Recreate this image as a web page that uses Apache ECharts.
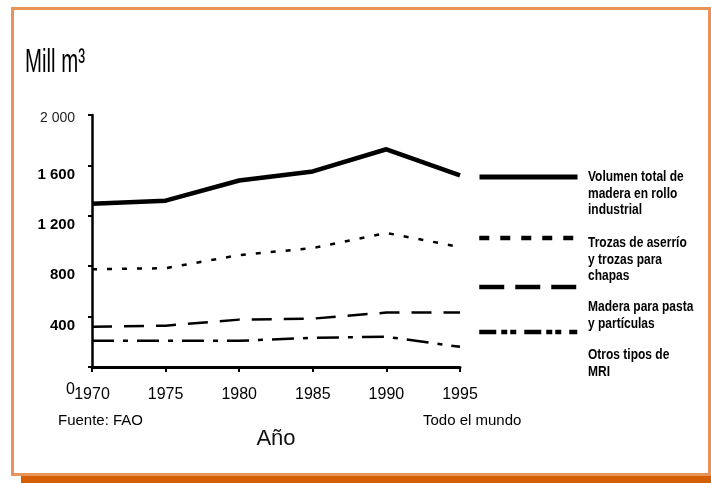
<!DOCTYPE html>
<html>
<head>
<meta charset="utf-8">
<script src="https://cdn.jsdelivr.net/npm/echarts@6/dist/echarts.min.js"></script>
<style>
  html, body { margin: 0; padding: 0; background: #fff; }
  #chart { width: 711px; height: 483px; }
</style>
</head>
<body>
<div id="chart"></div>
<script>
// datos (millones de m3)
const years = ['1970', '1975', '1980', '1985', '1990', '1995'];
const volumenTotal = [1296, 1320, 1480, 1552, 1728, 1520];
const trozas = [776, 784, 888, 944, 1064, 952];
const pasta = [320, 328, 376, 384, 432, 432];
const otros = [208, 208, 208, 232, 240, 160];

const names = [
  'Volumen total de\nmadera en rollo\nindustrial',
  'Trozas de aserrío\ny trozas para\nchapas',
  'Madera para pasta\ny partículas',
  'Otros tipos de\nMRI'
];

const SANS = '"Liberation Sans", Arial, sans-serif';

const chart = echarts.init(document.getElementById('chart'));

// numero con espacio de miles
const fmt = (v) => String(v).replace(/\B(?=(\d{3})+(?!\d))/g, ' ');

const legendTops = [177, 238, 287, 332];
const legendLines = [
  { type: 'solid', width: 5 },
  { type: [10, 11], width: 4.5 },
  { type: [25, 11], width: 4.5 },
  { type: [17, 5, 6, 3, 6, 8], width: 4.5 }
];
const legendTextTops = [169, 235, 299, 347];

const option = {
  animation: false,
  backgroundColor: '#fff',
  color: ['#000', '#000', '#000', '#000'],
  grid: { left: 92, right: 251, top: 115, bottom: 116, containLabel: false },
  legend: names.map((n, i) => ({
    data: [{
      name: n,
      itemStyle: { opacity: 0 },
      lineStyle: Object.assign({ color: '#000' }, legendLines[i])
    }],
    left: 477,
    top: legendTops[i] - 7,
    padding: 0,
    itemWidth: 98,
    itemHeight: 14,
    selectedMode: false,
    formatter: () => ''
  })),
  xAxis: {
    type: 'category',
    data: years,
    boundaryGap: false,
    name: 'Año',
    nameLocation: 'middle',
    nameGap: 61,
    nameTextStyle: { fontFamily: SANS, fontSize: 22, color: '#111' },
    axisLine: { lineStyle: { color: '#000', width: 3 } },
    axisTick: { alignWithLabel: true, length: 5, lineStyle: { color: '#000', width: 2 } },
    axisLabel: { margin: 20, fontFamily: SANS, fontSize: 16, color: '#000', interval: 0 }
  },
  yAxis: {
    type: 'value',
    min: 0,
    max: 2000,
    interval: 400,
    splitLine: { show: false },
    axisLine: { show: true, lineStyle: { color: '#000', width: 2.5 } },
    axisTick: { show: true, length: 4, lineStyle: { color: '#000', width: 2 } },
    axisLabel: {
      margin: 17,
      color: '#000',
      formatter: function (v) {
        if (v === 0) return '{z|0}';
        if (v === 2000) return '{t|' + fmt(v) + '}';
        return '{b|' + fmt(v) + '}';
      },
      rich: {
        t: { fontFamily: SANS, fontSize: 14, color: '#222', padding: [6, 0, 0, 0] },
        b: { fontFamily: SANS, fontSize: 15, fontWeight: 'bold', color: '#000', padding: [18, 0, 0, 0] },
        z: { fontFamily: SANS, fontSize: 16, color: '#000', padding: [46, 0, 0, 0] }
      }
    }
  },
  series: [
    {
      name: names[0], type: 'line', data: volumenTotal, symbol: 'none',
      lineStyle: { color: '#000', width: 4.5 }
    },
    {
      name: names[1], type: 'line', data: trozas, symbol: 'none',
      lineStyle: { color: '#000', width: 2.5, type: [5, 10] }
    },
    {
      name: names[2], type: 'line', data: pasta, symbol: 'none',
      lineStyle: { color: '#000', width: 2.5, type: [20, 12] }
    },
    {
      name: names[3], type: 'line', data: otros, symbol: 'none',
      lineStyle: { color: '#000', width: 2.5, type: [22, 9, 5, 9] }
    }
  ],
  graphic: [
    // marco naranja
    {
      type: 'rect', shape: { x: 21, y: 476, width: 690, height: 7 },
      style: { fill: '#d45f00' }, silent: true
    },
    {
      type: 'rect', shape: { x: 12.5, y: 8.5, width: 697, height: 466 },
      style: { fill: 'none', stroke: '#e8935a', lineWidth: 3 }, silent: true
    },
    {
      type: 'text', x: 25, y: 46, scaleX: 0.6, originX: 0, originY: 0,
      style: { text: 'Mill m³', font: '34px ' + SANS, fill: '#000', verticalAlign: 'top' }
    },
    {
      type: 'text', left: 58, top: 413,
      style: { text: 'Fuente: FAO', font: '15px ' + SANS, fill: '#000' }
    },
    {
      type: 'text', left: 423, top: 413,
      style: { text: 'Todo el mundo', font: '15px ' + SANS, fill: '#000' }
    }
  ].concat(names.map((n, i) => ({
    type: 'text', x: 588, y: legendTextTops[i], scaleX: 0.8, originX: 0, originY: 0,
    style: { text: n, font: 'bold 15px ' + SANS, fill: '#000', lineHeight: 16.5, verticalAlign: 'top' }
  })))
};

chart.setOption(option);
</script>
</body>
</html>
